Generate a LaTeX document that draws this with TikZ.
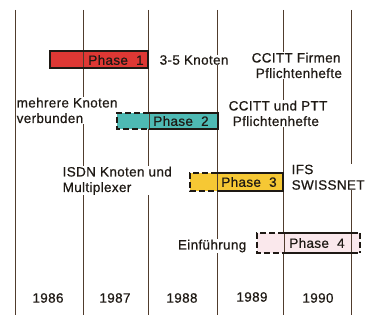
\documentclass[tikz,border=0pt]{standalone}
\usepackage{fontspec}
\setmainfont{Liberation Sans}[LetterSpace=2.5,FakeBold=0.5]
\definecolor{lineC}{RGB}{80,60,45}
\definecolor{textC}{RGB}{30,25,20}
\definecolor{redC}{RGB}{222,56,52}
\definecolor{tealC}{RGB}{78,186,180}
\definecolor{yelC}{RGB}{246,200,52}
\definecolor{pinkC}{RGB}{250,232,236}
\begin{document}
\begin{tikzpicture}[x=1pt,y=-1pt,
  yearline/.style={draw=lineC,line width=0.7pt},
  barborder/.style={draw=textC,line width=1.1pt},
  dashb/.style={barborder,dash pattern=on 6pt off 3pt},
  lbl/.style={font=\fontsize{13.5}{15.5}\selectfont,text=textC,fill=white,inner sep=0.5pt,align=left},
  phaselbl/.style={font=\fontsize{13.5}{15}\selectfont,text=textC,inner sep=0pt},
  year/.style={font=\fontsize{13.5}{15}\selectfont,text=textC,inner sep=0pt}]
\useasboundingbox (0,0) rectangle (368,320);
% year lines
\foreach \xx/\nm in {15/l0,83/l1,148/l2,217/l3,283/l4,351/l5}{
  \coordinate (\nm t) at (\xx,10);
  \coordinate (\nm b) at (\xx,315);
  \draw[yearline] (\nm t) -- (\nm b);
}
% texts
\node[lbl,anchor=west] (t1) at (159,60) {3-5 Knoten};
\node[lbl,anchor=north west] (t2) at (251,52) {CCITT Firmen\\\ Pflichtenhefte};
\node[lbl,anchor=north west] (t3) at (16,97) {mehrere Knoten\\verbunden};
\node[lbl,anchor=north west] (t4) at (228,100) {CCITT und PTT\\\ Pflichtenhefte};
\node[lbl,anchor=north west] (t5) at (62,166) {ISDN Knoten und\\Multiplexer};
\node[lbl,anchor=north west] (t6) at (291,164) {IFS\\SWISSNET};
\node[lbl,anchor=east] (t7) at (247,246) {Einführung};
% bars
\fill[redC] (50,51) rectangle (148,68);
\draw[barborder] (50,51) rectangle (148,68);
\fill[tealC] (117,113) rectangle (218,129);
\draw[dashb] (149,113) -- (117,113) -- (117,129) -- (149,129);
\draw[barborder] (149,113) -- (218,113) -- (218,129) -- (149,129);
\fill[yelC] (190,173) rectangle (283,191);
\draw[dashb] (217,173) -- (190,173) -- (190,191) -- (217,191);
\draw[barborder] (217,173) -- (283,173) -- (283,191) -- (217,191);
\fill[pinkC] (257,233) rectangle (360,253);
\draw[dashb] (284,233) -- (257,233) -- (257,253) -- (284,253);
\draw[barborder] (284,233) -- (358,233);
\draw[barborder] (284,253) -- (358,253);
\draw[dashb] (360,233) -- (360,253);
% thin year lines seen through the bars
\draw[yearline,line width=0.5pt] (83,52) -- (83,67);
\draw[yearline,line width=0.5pt] (149,114) -- (149,128);
\draw[yearline,line width=0.5pt] (217,174) -- (217,190);
\draw[yearline,line width=0.5pt] (284,234) -- (284,252);
\draw[yearline,line width=0.5pt] (351,234) -- (351,252);
% phase labels
\node[phaselbl] (p1) at (116,60) {Phase\ \ 1};
\node[phaselbl] (p2) at (181,121) {Phase\ \ 2};
\node[phaselbl] (p3) at (249,182) {Phase\ \ 3};
\node[phaselbl] (p4) at (317,243) {Phase\ \ 4};
% years
\node[year] (y86) at (48,298) {1986};
\node[year] (y87) at (115,298) {1987};
\node[year] (y88) at (182,298) {1988};
\node[year] (y89) at (252,297) {1989};
\node[year] (y90) at (318,298) {1990};
\end{tikzpicture}
\end{document}
